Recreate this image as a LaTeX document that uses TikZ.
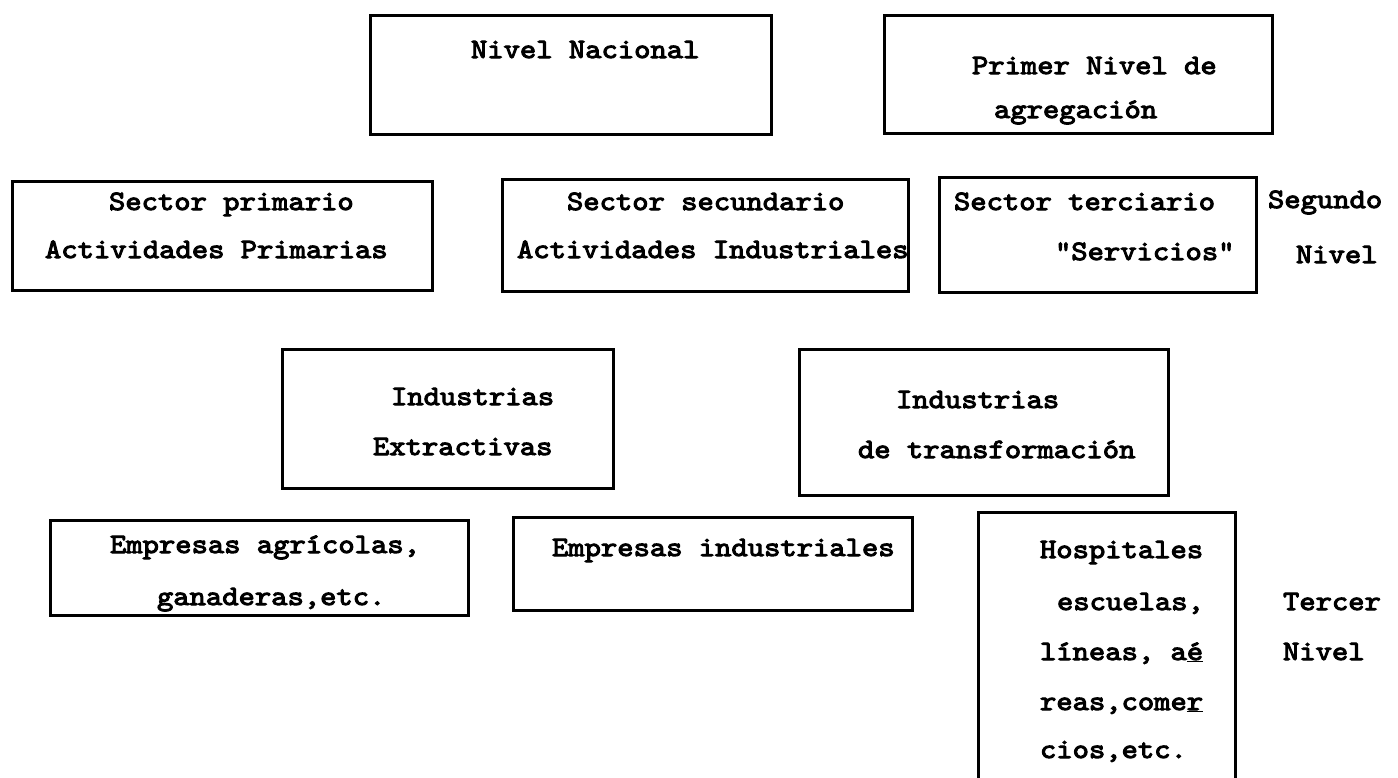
\documentclass[tikz,border=0pt]{standalone}
\usepackage{fontspec}
\newfontfamily\tw{lmmono10-regular}[Extension=.otf, FakeBold=3.6, FakeStretch=1.11]
\begin{document}
\begin{tikzpicture}[x=1pt,y=-1pt,
  box/.style={draw, line width=3pt, inner sep=0pt, outer sep=0pt, anchor=north west},
  lbl/.style={font=\tw\fontsize{28}{30}\selectfont, anchor=base west, inner sep=0pt, outer sep=0pt}]
\useasboundingbox (0,0) rectangle (1398,777);
\clip (0,0) rectangle (1398,777);
\fill[white] (0,0) rectangle (1398,777);
% boxes
\node[box, minimum width=401pt, minimum height=119pt] (b1) at (370,15) {};
\node[box, minimum width=388pt, minimum height=118pt] (b2) at (884,15) {};
\node[box, minimum width=420pt, minimum height=109pt] (b3) at (12,181) {};
\node[box, minimum width=406pt, minimum height=112pt] (b4) at (502,179) {};
\node[box, minimum width=317pt, minimum height=115pt] (b5) at (939,177) {};
\node[box, minimum width=331pt, minimum height=139pt] (b6) at (282,349) {};
\node[box, minimum width=369pt, minimum height=146pt] (b7) at (799,349) {};
\node[box, minimum width=418pt, minimum height=95pt] (b8) at (50,520) {};
\node[box, minimum width=399pt, minimum height=93pt] (b9) at (513,517) {};
\node[box, minimum width=257pt, minimum height=300pt] (b10) at (978,512) {};
% texts
\node[lbl] (t1) at (471,58) {Nivel Nacional};
\node[lbl] (t2a) at (972,74) {Primer Nivel de};
\node[lbl] (t2b) at (994,118) {agregación};
\node[lbl] (t3a) at (109,210) {Sector primario};
\node[lbl] (t3b) at (45,258) {Actividades Primarias};
\node[lbl] (t4a) at (567,210) {Sector secundario};
\node[lbl] (t4b) at (517,258) {Actividades Industriales};
\node[lbl] (t5a) at (954,210) {Sector terciario};
\node[lbl] (t5b) at (1055,260) {"Servicios"};
\node[lbl] (t6a) at (1268,208) {Segundo};
\node[lbl] (t6b) at (1296,263) {Nivel};
\node[lbl] (t7a) at (391,405) {Industrias};
\node[lbl] (t7b) at (373,455) {Extractivas};
\node[lbl] (t8a) at (896,408) {Industrias};
\node[lbl] (t8b) at (858,458) {de transformación};
\node[lbl] (t9a) at (110,553) {Empresas agrícolas,};
\node[lbl] (t9b) at (157,605) {ganaderas,etc.};
\node[lbl] (t10) at (552,556) {Empresas industriales};
\node[lbl] (t11a) at (1040,558) {Hospitales};
\node[lbl] (t11b) at (1057,610) {escuelas,};
\node[lbl] (t11c) at (1040,660) {líneas, a\underline{é}};
\node[lbl] (t11d) at (1040,710) {reas,come\underline{r}};
\node[lbl] (t11e) at (1040,758) {cios,etc.};
\node[lbl] (t12a) at (1283,610) {Tercer};
\node[lbl] (t12b) at (1283,660) {Nivel};
\end{tikzpicture}
\end{document}
